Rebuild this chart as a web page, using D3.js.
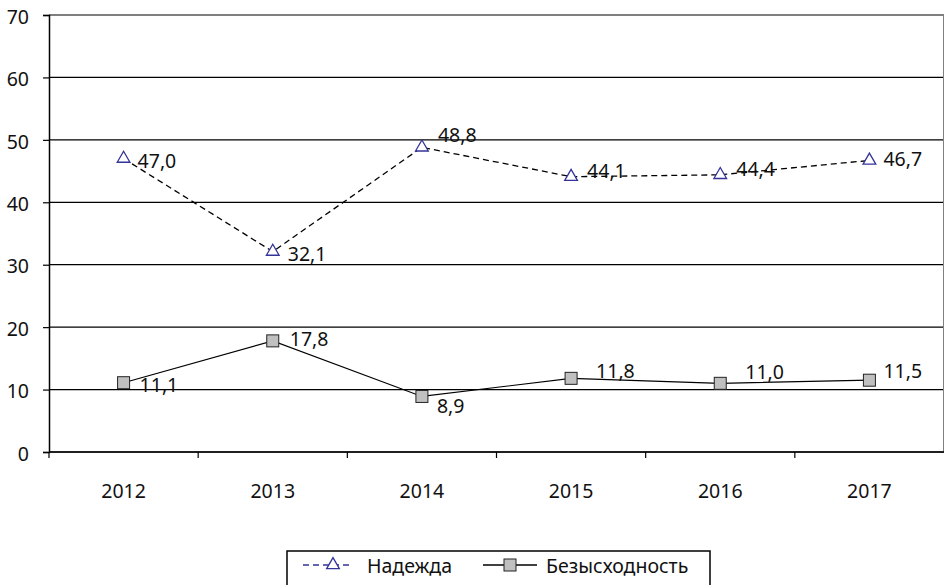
<!DOCTYPE html>
<html>
<head>
<meta charset="utf-8">
<script src="https://cdn.jsdelivr.net/npm/d3@7"></script>
<style>
  body { margin: 0; background: #fff; }
  text { font-family: "Noto Sans", "DejaVu Sans", sans-serif; fill: #111; }
</style>
</head>
<body>
<div id="chart"></div>
<script>
const years = ["2012", "2013", "2014", "2015", "2016", "2017"];
const hope = [47.0, 32.1, 48.8, 44.1, 44.4, 46.7];
const despair = [11.1, 17.8, 8.9, 11.8, 11.0, 11.5];
const yTicks = [0, 10, 20, 30, 40, 50, 60, 70];

// сдвиги подписей относительно маркеров
const hopeLabelPos = [[14, 9], [15, 9], [16, -5], [16, 1], [16, 1], [14, 6]];
const despairLabelPos = [[16, 9], [17, 5], [15, 17], [25, 0], [25, -4], [14, -2]];

const W = 945, H = 585;
const margin = { top: 15, right: 1, bottom: 133, left: 49 };
const width = W - margin.left - margin.right;
const height = H - margin.top - margin.bottom;
const fs = "19.5px";

const svg = d3.select("#chart")
  .append("svg")
  .attr("width", W)
  .attr("height", H);

const g = svg.append("g")
  .attr("transform", `translate(${margin.left},${margin.top})`);

const x = d3.scaleBand()
  .domain(years)
  .range([0, width]);

const y = d3.scaleLinear()
  .domain([0, 70])
  .range([height, 0]);

// сетка
g.append("g")
  .selectAll("line")
  .data(yTicks)
  .enter()
  .append("line")
  .attr("x1", 0)
  .attr("x2", width)
  .attr("y1", d => y(d))
  .attr("y2", d => y(d))
  .attr("stroke", "#000")
  .attr("stroke-width", 1.2);

// правая рамка
g.append("line")
  .attr("x1", width - 0.5).attr("x2", width - 0.5)
  .attr("y1", 0).attr("y2", height)
  .attr("stroke", "#808080")
  .attr("stroke-width", 1);

// оси
const yAxis = d3.axisLeft(y).tickValues(yTicks).tickSize(6).tickPadding(14);
const yG = g.append("g").call(yAxis);
yG.select(".domain").attr("stroke-width", 1.5);
yG.selectAll(".tick line").attr("stroke-width", 1.2);
yG.selectAll("text")
  .style("font-size", fs)
  .attr("dy", "0.42em")
  .attr("fill", "#111");

const xG = g.append("g").attr("transform", `translate(0,${height})`);
xG.append("line")
  .attr("x1", 0).attr("x2", width)
  .attr("stroke", "#000").attr("stroke-width", 1.5);
xG.selectAll(".xt")
  .data(years)
  .enter()
  .append("line")
  .attr("x1", d => x(d)).attr("x2", d => x(d))
  .attr("y1", 0).attr("y2", 6)
  .attr("stroke", "#000").attr("stroke-width", 1.2);
xG.selectAll(".xl")
  .data(years)
  .enter()
  .append("text")
  .attr("x", d => x(d) + x.bandwidth() / 2)
  .attr("y", 46)
  .attr("text-anchor", "middle")
  .style("font-size", fs)
  .text(d => d);

const cx = i => x(years[i]) + x.bandwidth() / 2;

// линии
const line = d3.line()
  .x((d, i) => cx(i))
  .y(d => y(d));

g.append("path")
  .datum(hope)
  .attr("d", line)
  .attr("fill", "none")
  .attr("stroke", "#000")
  .attr("stroke-width", 1.3)
  .attr("stroke-dasharray", "6,4");

g.append("path")
  .datum(despair)
  .attr("d", line)
  .attr("fill", "none")
  .attr("stroke", "#000")
  .attr("stroke-width", 1.2);

// маркеры
const tri = d3.symbol().type(d3.symbolTriangle).size(70);
g.selectAll(".tri")
  .data(hope)
  .enter()
  .append("path")
  .attr("d", tri)
  .attr("transform", (d, i) => `translate(${cx(i)},${y(d)})`)
  .attr("fill", "#fff")
  .attr("stroke", "#333399")
  .attr("stroke-width", 1.3);

g.selectAll(".sq")
  .data(despair)
  .enter()
  .append("rect")
  .attr("x", (d, i) => cx(i) - 6)
  .attr("y", d => y(d) - 6)
  .attr("width", 12)
  .attr("height", 12)
  .attr("fill", "#c0c0c0")
  .attr("stroke", "#222")
  .attr("stroke-width", 1);

// подписи
const fmt = v => v.toFixed(1).replace(".", ",");
g.selectAll(".hl")
  .data(hope)
  .enter()
  .append("text")
  .attr("x", (d, i) => cx(i) + hopeLabelPos[i][0])
  .attr("y", (d, i) => y(d) + hopeLabelPos[i][1])
  .style("font-size", fs)
  .text(fmt);

g.selectAll(".dl")
  .data(despair)
  .enter()
  .append("text")
  .attr("x", (d, i) => cx(i) + despairLabelPos[i][0])
  .attr("y", (d, i) => y(d) + despairLabelPos[i][1])
  .style("font-size", fs)
  .text(fmt);

// легенда
const legend = svg.append("g").attr("transform", "translate(287,551)");
legend.append("rect")
  .attr("x", 0).attr("y", 0)
  .attr("width", 423).attr("height", 40)
  .attr("fill", "#fff")
  .attr("stroke", "#000")
  .attr("stroke-width", 1.5);

legend.append("line")
  .attr("x1", 16).attr("x2", 66)
  .attr("y1", 14).attr("y2", 14)
  .attr("stroke", "#333399")
  .attr("stroke-width", 1.3)
  .attr("stroke-dasharray", "6,4");
legend.append("path")
  .attr("d", tri)
  .attr("transform", "translate(46,14)")
  .attr("fill", "#fff")
  .attr("stroke", "#333399")
  .attr("stroke-width", 1.3);
legend.append("text")
  .attr("x", 80).attr("y", 22)
  .style("font-size", fs)
  .text("Надежда");

legend.append("line")
  .attr("x1", 196).attr("x2", 250)
  .attr("y1", 14).attr("y2", 14)
  .attr("stroke", "#000")
  .attr("stroke-width", 1.3);
legend.append("rect")
  .attr("x", 217).attr("y", 8)
  .attr("width", 12).attr("height", 12)
  .attr("fill", "#c0c0c0")
  .attr("stroke", "#222");
legend.append("text")
  .attr("x", 259).attr("y", 22)
  .style("font-size", fs)
  .text("Безысходность");
</script>
</body>
</html>
